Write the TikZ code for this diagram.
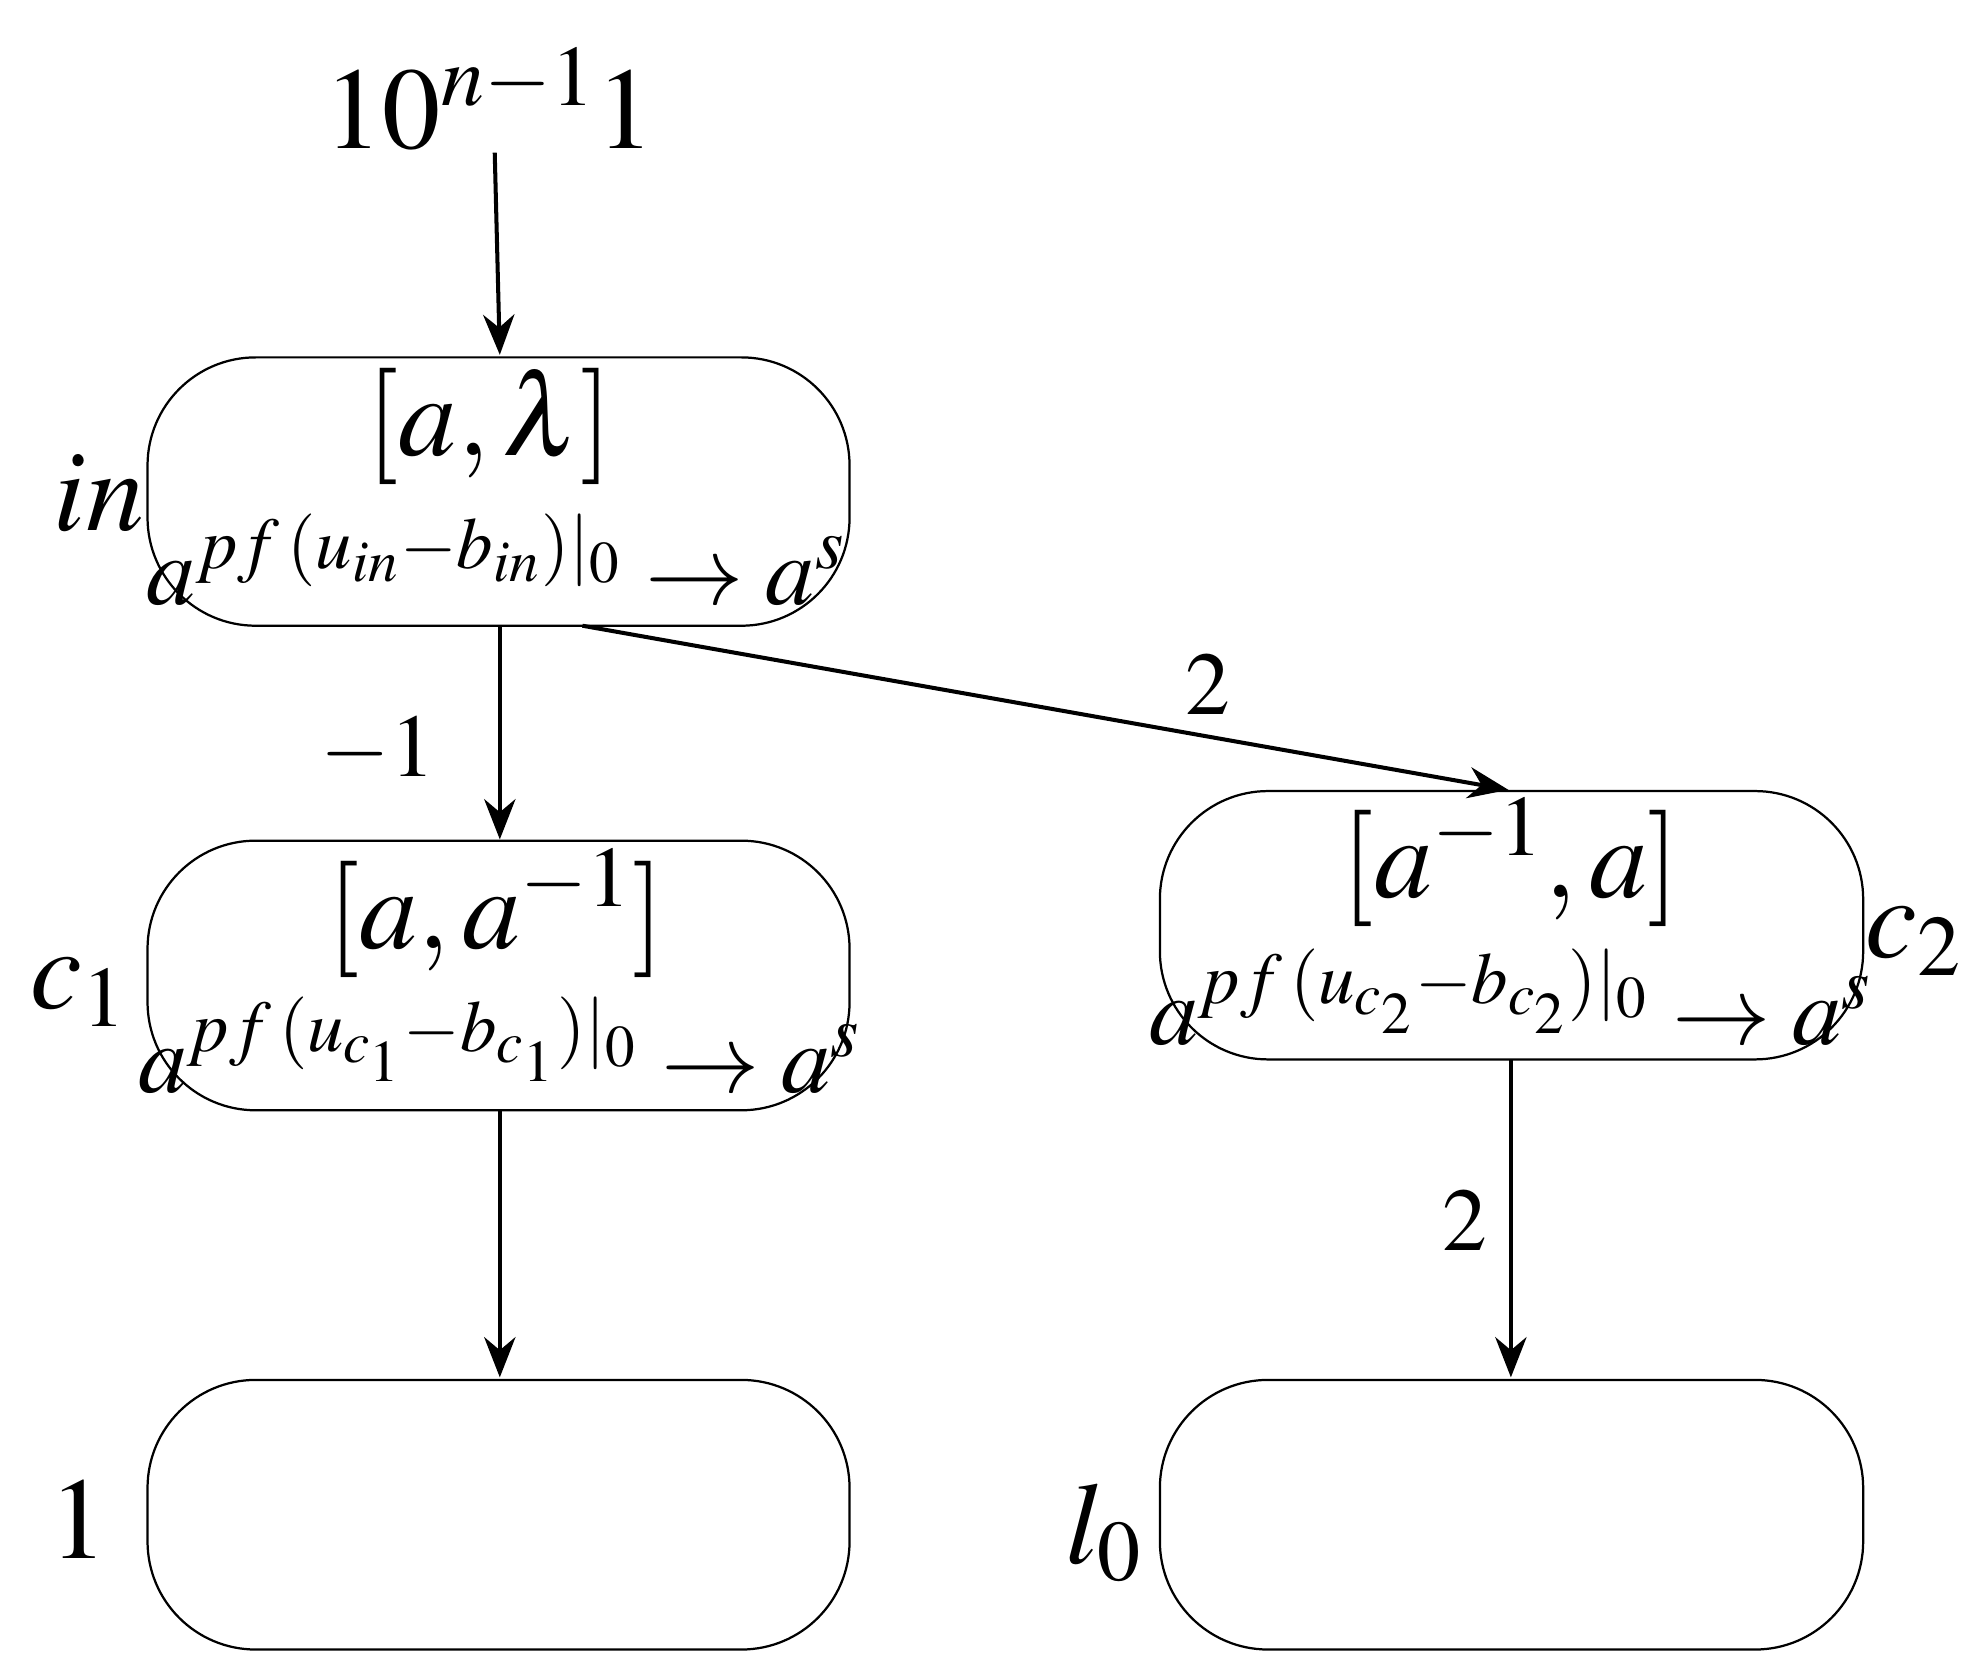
\documentclass[tikz,border=0pt]{standalone}
\usepackage{mathptmx}
\usetikzlibrary{arrows.meta}
\begin{document}
\begin{tikzpicture}[x=0.01cm,y=-0.01cm,
 box/.style={draw,line width=0.5pt,rounded corners=0.85cm},
 arr/.style={-{Stealth[length=9pt,width=7pt]},line width=0.9pt},
 big/.style={font=\fontsize{26}{30}\selectfont},
 mid/.style={font=\fontsize{22}{26}\selectfont},
 lab/.style={font=\fontsize{20}{24}\selectfont}]
\useasboundingbox (0,0) rectangle (1560,1318);
\draw[box] (116,281) rectangle (668,492);
\draw[box] (116,661) rectangle (668,873);
\draw[box] (912,622) rectangle (1465,833);
\draw[box] (116,1085) rectangle (668,1297);
\draw[box] (912,1085) rectangle (1465,1297);
\node[big] (top) at (385,78) {$10^{n-1}1$};
\node[big] (lin) at (385,335) {$[a,\lambda]$};
\node[mid] (rin) at (390,440) {$a^{pf\,(u_{in}-b_{in})|_0}\rightarrow a^s$};
\node[big] (lc1) at (390,718) {$[a,a^{-1}]$};
\node[mid] (rc1) at (393,822) {$a^{pf\,(u_{c_1}-b_{c_1})|_0}\rightarrow a^s$};
\node[big] (lc2) at (1188,678) {$[a^{-1},a]$};
\node[mid] (rc2) at (1188,784) {$a^{pf\,(u_{c_2}-b_{c_2})|_0}\rightarrow a^s$};
\node[big] (nin) at (78,388) {$in$};
\node[big] (nc1) at (62,780) {$c_1$};
\node[big] (nc2) at (1505,740) {$c_2$};
\node[big] (n1) at (62,1195) {$1$};
\node[big] (nl0) at (868,1205) {$l_0$};
\coordinate (a0) at (389,120); \coordinate (a1) at (393,279);
\coordinate (b0) at (393,492); \coordinate (b1) at (393,660);
\coordinate (c0) at (458,492); \coordinate (c1) at (1186,621);
\coordinate (d0) at (393,873); \coordinate (d1) at (393,1083);
\coordinate (e0) at (1188,833); \coordinate (e1) at (1188,1083);
\draw[arr] (a0) -- (a1);
\draw[arr] (b0) -- (b1);
\draw[arr] (c0) -- (c1);
\draw[arr] (d0) -- (d1);
\draw[arr] (e0) -- (e1);
\node[lab] at (297,590) {$-1$};
\node[lab] at (950,538) {$2$};
\node[lab] at (1152,960) {$2$};
\end{tikzpicture}
\end{document}
